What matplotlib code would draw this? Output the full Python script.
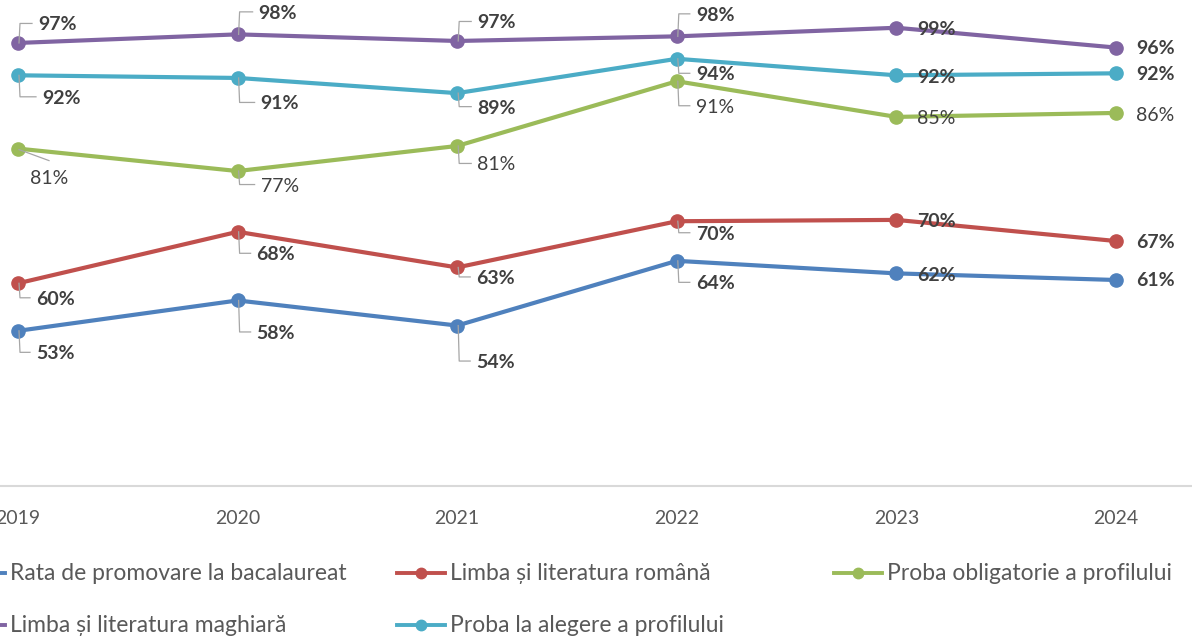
import numpy as np
import matplotlib.pyplot as plt
from matplotlib.lines import Line2D

plt.rcParams['font.family'] = ['Lato', 'DejaVu Sans']

years = ['2019', '2020', '2021', '2022', '2023', '2024']
rata = [53.0, 57.6, 53.8, 63.6, 61.7, 60.7]
romana = [60.2, 68.0, 62.6, 69.6, 69.8, 66.6]
obligatorie = [80.6, 77.2, 81.0, 90.8, 85.4, 86.0]
maghiara = [96.6, 97.9, 96.9, 97.6, 98.9, 95.9]
alegere = [91.7, 91.3, 89.0, 94.2, 91.7, 92.0]

names = ['Rata de promovare la bacalaureat', 'Limba și literatura română',
         'Proba obligatorie a profilului', 'Limba și literatura maghiară',
         'Proba la alegere a profilului']
series = [rata, romana, obligatorie, maghiara, alegere]
colors = ['#4F81BD', '#C0504D', '#9BBB59', '#8064A2', '#4BACC6']
bold = [True, True, False, True, True]

# label placement in pixels: (dx to text left, dy to text centre, leader type)
offsets = [
    [(18, 23, 'L'), (19, 33, 'L'), (19, 37, 'L'), (19, 23, 'L'), (21, 2, ''), (20, 1, '')],
    [(18, 16, 'L'), (19, 23, 'L'), (19, 11, 'L'), (19, 13, 'L'), (21, 2, ''), (20, 1, '')],
    [(12, 30, 'D'), (23, 15, 'L'), (20, 19, 'L'), (19, 26, 'L'), (21, 2, ''), (20, 2.5, '')],
    [(20, -18, 'L'), (21, -21, 'L'), (20, -18, 'L'), (19, -21, 'L'), (21, 2, ''), (20, 1, '')],
    [(24, 23, 'L'), (23, 26, 'L'), (20, 15, 'L'), (19, 16, 'L'), (21, 2, ''), (20, 1.5, '')],
]

W, H = 1192, 641
fig = plt.figure(figsize=(W / 100, H / 100), dpi=100)
ax = fig.add_axes([0, 1 - 486 / H, 1, (486 - 20.5) / H])
x = np.arange(len(years))
ax.set_xlim(-18 / 219.6, (W - 18) / 219.6)
ax.set_ylim(29.5, 100)

for vals, c in zip(series, colors):
    ax.plot(x, vals, color=c, lw=3.0, marker='o', ms=9.5, solid_capstyle='round', zorder=3)

for s in ['left', 'right', 'top']:
    ax.spines[s].set_visible(False)
ax.spines['bottom'].set_color('#D9D9D9')
ax.spines['bottom'].set_linewidth(1.5)
ax.set_yticks([])
ax.set_xticks(x)
ax.set_xticklabels(years, fontsize=14, color='#595959')
ax.tick_params(axis='x', length=0, pad=17)

# data labels with leader lines, placed in pixel space
inv = fig.transFigure.inverted()
def fpos(px, py_img):
    return inv.transform((px, H - py_img))

for vals, offs, b in zip(series, offsets, bold):
    for i, v in enumerate(vals):
        px, py = ax.transData.transform((i, v))
        py = H - py
        dx, dy, kind = offs[i]
        tx, ty = fpos(px + dx, py + dy)
        fig.text(tx, ty, f'{v:.0f}%', fontsize=14, fontweight='bold' if b else 'normal',
                 color='#404040', ha='left', va='center', zorder=5)
        if kind == 'L':
            pts = [fpos(px + 1, py), fpos(px + 2, py + dy - 1.5), fpos(px + dx - 6, py + dy - 1.5)]
        elif kind == 'D':
            pts = [fpos(px + 1, py + 1), fpos(px + 31, py + 12)]
        else:
            continue
        pts = np.array(pts)
        fig.add_artist(Line2D(pts[:, 0], pts[:, 1], color='#A6A6A6', lw=0.9,
                              transform=fig.transFigure, zorder=2))

# legend, laid out by hand in rows like the original
text_x = [10, 450, 887]
row_y = [573, 625]
for k in range(len(names)):
    r, col = divmod(k, 3)
    tx0 = text_x[col]
    cy = row_y[r]
    lx = [fpos(tx0 - 53, cy)[0], fpos(tx0 - 5, cy)[0]]
    ly = [fpos(0, cy)[1]] * 2
    fig.add_artist(Line2D(lx, ly, color=colors[k], lw=2.8, transform=fig.transFigure))
    mx, my = fpos(tx0 - 29, cy)
    fig.add_artist(Line2D([mx], [my], color=colors[k], marker='o', ms=7.5,
                          transform=fig.transFigure))
    tx, ty = fpos(tx0, cy)
    fig.text(tx, ty, names[k], fontsize=16.5, color='#595959', ha='left', va='center')

fig.savefig('out.png', dpi=100)
